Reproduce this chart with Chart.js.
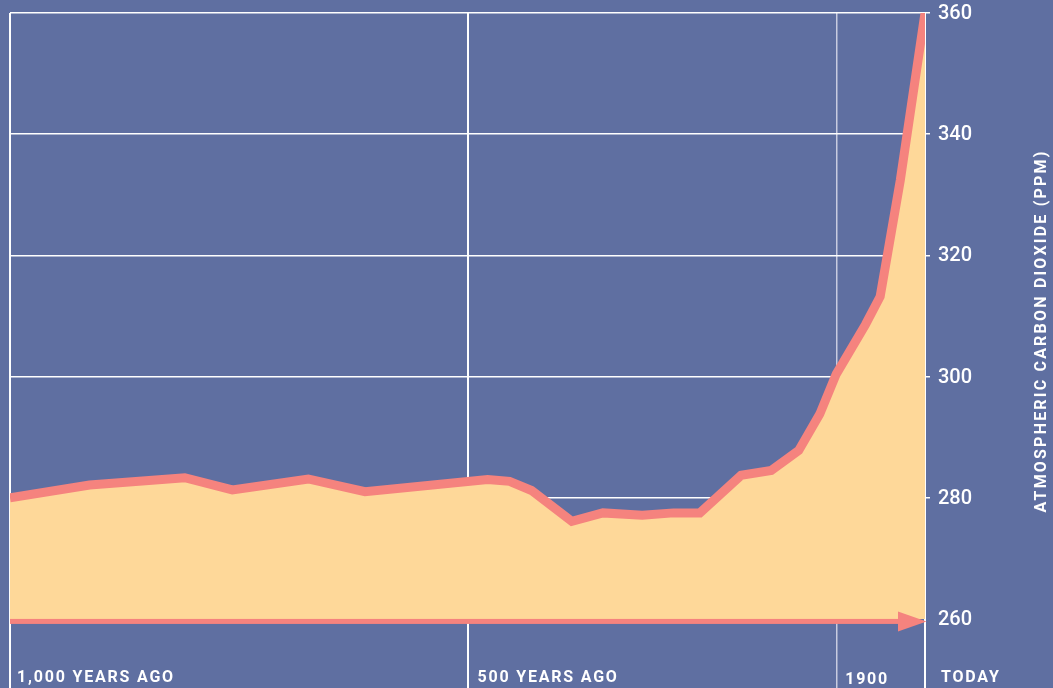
<!DOCTYPE html>
<html>
<head>
<meta charset="utf-8">
<script src="https://cdn.jsdelivr.net/npm/chart.js@4.4.1/dist/chart.umd.min.js"></script>
<style>
    html, body { margin: 0; padding: 0; background: #5f6fa1; }
    #wrap { width: 1053px; height: 688px; }
</style>
</head>
<body>
<div id="wrap"><canvas id="co2Chart" width="1053" height="688"></canvas></div>
<script>
// values (year, ppm)
const years = [996, 1083, 1187, 1239, 1322, 1384, 1518, 1542, 1566, 1610, 1644, 1687, 1721, 1750,
    1795, 1828, 1858, 1881, 1899, 1931, 1947, 1969, 1996];
const ppm = [280.0, 282.1, 283.3, 281.3, 283.1, 281.0, 283.0, 282.7, 281.2, 276.1, 277.5, 277.1, 277.5, 277.5,
    283.7, 284.5, 287.8, 293.8, 300.4, 308.6, 313.2, 332.4, 360.0];
const yTicks = [260, 280, 300, 320, 340, 360];
const xMarks = [996, 1496, 1900, 1996];
const xLabels = ['1,000 YEARS AGO', '500 YEARS AGO', '1900', 'TODAY'];
const axisTitle = 'ATMOSPHERIC CARBON DIOXIDE (PPM)';

const FILL = '#fed899';
const LINE = '#f5837e';

const labelFont = 'bold 16px Roboto, "Liberation Sans", sans-serif';

const arrowPlugin = {
    id: 'baseArrow',
    afterDatasetsDraw(chart) {
        const ctx = chart.ctx;
        const area = chart.chartArea;
        const y = chart.scales.y.getPixelForValue(260) + 2.5;
        ctx.save();
        ctx.fillStyle = LINE;
        ctx.fillRect(area.left, y - 2.5, area.right - area.left - 25, 5);
        ctx.beginPath();
        ctx.moveTo(area.right - 27, y - 10);
        ctx.lineTo(area.right + 1.5, y);
        ctx.lineTo(area.right - 27, y + 10);
        ctx.closePath();
        ctx.fill();
        ctx.restore();
    }
};

const textPlugin = {
    id: 'extraText',
    afterDraw(chart) {
        const ctx = chart.ctx;
        const xs = chart.scales.x;
        const offsets = [7, 10, 8, 16];
        ctx.save();
        ctx.fillStyle = '#ffffff';
        ctx.font = labelFont;
        ctx.letterSpacing = '1.8px';
        ctx.textBaseline = 'alphabetic';
        ctx.textAlign = 'left';
        xLabels.forEach((txt, i) => {
            const px = xs.getPixelForValue(xMarks[i]) + offsets[i];
            ctx.fillText(txt, px, i === 2 ? 684 : 682);
        });
        // right axis title, reading bottom to top
        ctx.translate(1046, 331);
        ctx.rotate(-Math.PI / 2);
        ctx.textAlign = 'center';
        ctx.letterSpacing = '2.2px';
        ctx.fillText(axisTitle, 0, 0);
        ctx.restore();
    }
};

const ctx = document.getElementById('co2Chart').getContext('2d');
const chart = new Chart(ctx, {
    type: 'line',
    data: {
        datasets: [{
            data: years.map((yr, i) => ({ x: yr, y: ppm[i] })),
            borderColor: LINE,
            borderWidth: 9,
            backgroundColor: FILL,
            fill: { value: 260 },
            pointRadius: 0,
            tension: 0,
            clip: 0
        }]
    },
    options: {
        responsive: false,
        animation: false,
        events: [],
        layout: { padding: { top: 13, left: 10, right: 0, bottom: 0 } },
        plugins: {
            legend: { display: false },
            tooltip: { enabled: false }
        },
        scales: {
            x: {
                type: 'linear',
                min: 996,
                max: 1996,
                z: 1,
                afterBuildTicks: (s) => { s.ticks = xMarks.map(v => ({ value: v })); },
                ticks: { display: false },
                grid: {
                    drawTicks: false,
                    color: (c) => (c.tick && c.tick.value === 1900) ? '#c8cbe0' : '#ffffff',
                    lineWidth: (c) => (c.tick && c.tick.value === 1900) ? 1.5 : 2
                },
                border: { display: false },
                afterFit: (s) => { s.height = 0; }
            },
            y: {
                position: 'right',
                min: 248.6,
                max: 360,
                z: 1,
                afterBuildTicks: (s) => { s.ticks = yTicks.map(v => ({ value: v })); },
                ticks: {
                    color: '#ffffff',
                    padding: 8,
                    labelOffset: 1,
                    font: { family: 'Roboto, "Liberation Sans", sans-serif', size: 20, weight: '500' }
                },
                grid: {
                    color: (c) => (c.tick && c.tick.value === 260) ? 'rgba(0,0,0,0)' : '#ffffff',
                    lineWidth: 1.5,
                    tickLength: 5
                },
                border: { display: false },
                afterFit: (s) => { s.width = 128; s.paddingTop = 0; s.paddingBottom = 0; }
            }
        }
    },
    plugins: [arrowPlugin, textPlugin]
});
</script>
</body>
</html>
